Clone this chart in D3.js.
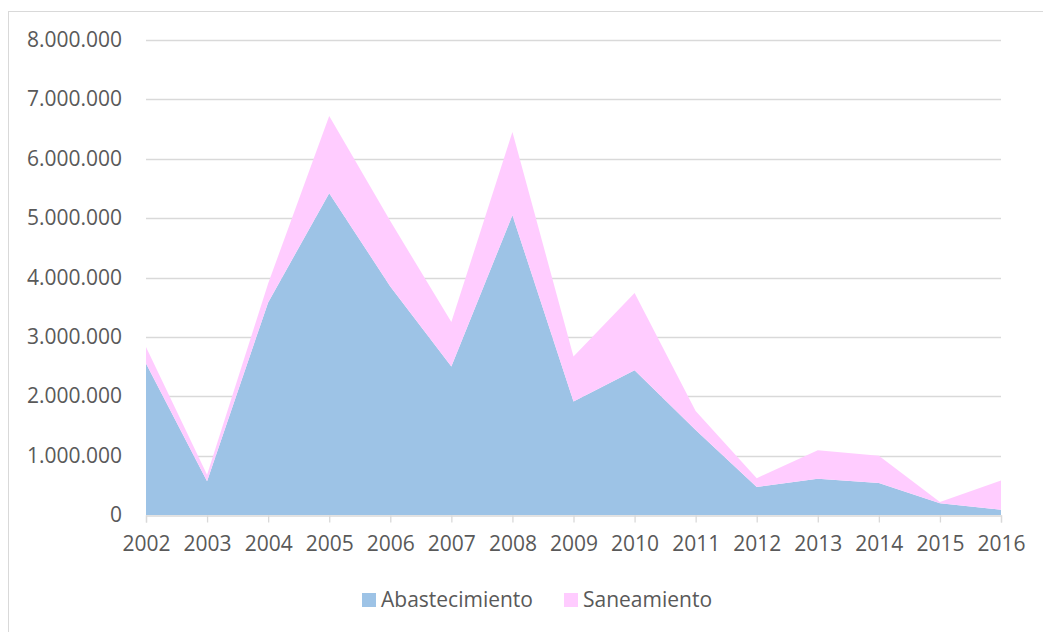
<!DOCTYPE html>
<html>
<head>
<meta charset="utf-8">
<script src="https://cdn.jsdelivr.net/npm/d3@7"></script>
<style>
  body { margin: 0; background: #fff; }
  text { font-family: "Open Sans", sans-serif; fill: #595959; }
</style>
</head>
<body>
<div id="chart"></div>
<script>
const width = 1043;
const height = 632;

// data
const years = [2002, 2003, 2004, 2005, 2006, 2007, 2008, 2009, 2010, 2011, 2012, 2013, 2014, 2015, 2016];
const abastecimiento = [2550000, 570000, 3580000, 5420000, 3850000, 2500000, 5050000, 1910000, 2440000, 1430000, 470000, 610000, 540000, 200000, 90000];
const saneamiento = [280000, 110000, 320000, 1300000, 1100000, 750000, 1400000, 760000, 1300000, 320000, 150000, 480000, 460000, 20000, 490000];
const seriesNames = ["Abastecimiento", "Saneamiento"];
const colors = ["#9dc3e6", "#ffccff"];
const yTicks = [0, 1000000, 2000000, 3000000, 4000000, 5000000, 6000000, 7000000, 8000000];

const margin = { left: 146, right: 42, top: 40, bottom: 117 };

const svg = d3.select("#chart")
  .append("svg")
  .attr("width", width)
  .attr("height", height);

// outer chart border
svg.append("rect")
  .attr("x", 8.5).attr("y", 11.5)
  .attr("width", 1100).attr("height", 700)
  .attr("fill", "none")
  .attr("stroke", "#d9d9d9");

const x = d3.scaleLinear()
  .domain([years[0], years[years.length - 1]])
  .range([margin.left, width - margin.right]);

const y = d3.scaleLinear()
  .domain([0, 8000000])
  .range([height - margin.bottom, margin.top]);

const locale = d3.formatLocale({ decimal: ",", thousands: ".", grouping: [3], currency: ["", "€"] });
const fmt = locale.format(",");

// gridlines
svg.append("g")
  .selectAll("line")
  .data(yTicks.slice(1))
  .enter()
  .append("line")
  .attr("x1", margin.left)
  .attr("x2", width - margin.right)
  .attr("y1", d => Math.round(y(d)) + 0.5)
  .attr("y2", d => Math.round(y(d)) + 0.5)
  .attr("stroke", "#d9d9d9")
  .attr("stroke-width", 1.3);

// stacked areas
const table = years.map((yr, i) => ({ year: yr, Abastecimiento: abastecimiento[i], Saneamiento: saneamiento[i] }));
const stacked = d3.stack().keys(seriesNames)(table);

const area = d3.area()
  .x(d => x(d.data.year))
  .y0(d => y(d[0]))
  .y1(d => y(d[1]));

svg.append("g")
  .selectAll("path")
  .data(stacked)
  .enter()
  .append("path")
  .attr("d", area)
  .attr("fill", (d, i) => colors[i]);

// y axis labels
svg.append("g")
  .selectAll("text")
  .data(yTicks)
  .enter()
  .append("text")
  .attr("x", 122)
  .attr("y", d => y(d) + 7)
  .attr("text-anchor", "end")
  .attr("font-size", 21)
  .text(d => fmt(d));

// x axis
const xAxis = svg.append("g")
  .attr("transform", `translate(0,${Math.round(y(0)) + 0.5})`)
  .call(d3.axisBottom(x).tickValues(years).tickFormat(d3.format("d")).tickSize(7).tickPadding(14));
xAxis.select(".domain").attr("stroke", "#d9d9d9").attr("stroke-width", 1.3);
xAxis.selectAll(".tick line").attr("stroke", "#d9d9d9").attr("stroke-width", 1.3);
xAxis.selectAll(".tick text")
  .attr("font-family", "Open Sans, sans-serif")
  .attr("font-size", 21)
  .attr("fill", "#595959");

// legend
const legendItems = [
  { name: seriesNames[0], color: colors[0], x: 362 },
  { name: seriesNames[1], color: colors[1], x: 564 }
];
const legend = svg.append("g");
legendItems.forEach(d => {
  legend.append("rect")
    .attr("x", d.x).attr("y", 593)
    .attr("width", 14).attr("height", 14)
    .attr("fill", d.color);
  legend.append("text")
    .attr("x", d.x + 19).attr("y", 607)
    .attr("font-size", 21)
    .text(d.name);
});
</script>
</body>
</html>
